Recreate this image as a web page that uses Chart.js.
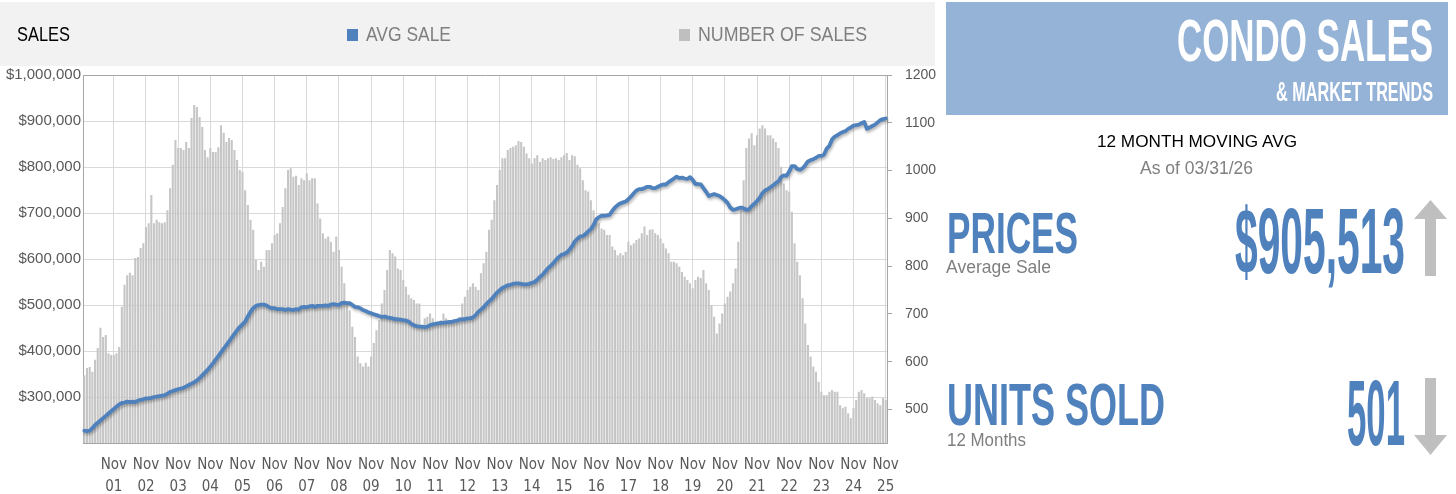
<!DOCTYPE html>
<html><head><meta charset="utf-8">
<script src="https://cdn.jsdelivr.net/npm/chart.js@4.4.1/dist/chart.umd.min.js"></script>
<style>
html,body{margin:0;padding:0;background:#fff;width:1456px;height:494px;overflow:hidden;position:relative;font-family:'Liberation Sans',Arial,sans-serif;}
.abs{position:absolute;white-space:nowrap;line-height:1;transform-origin:0 0;}
#band{position:absolute;left:0;top:2px;width:935px;height:64px;background:#f2f2f2;}
#chartWrap{position:absolute;left:0;top:66px;width:940px;height:428px;}
#titleBox{position:absolute;left:946px;top:2px;width:502px;height:113px;background:#95b3d7;}
.sw{position:absolute;width:11px;height:12px;top:29px;}
</style></head>
<body>
<div id="band"></div>
<div class="sw" style="left:347px;background:#4f81bd"></div>
<div class="sw" style="left:679px;background:#bfbfbf"></div>
<div id="chartWrap"><canvas id="c" width="940" height="428"></canvas></div>
<div id="titleBox"></div>
<svg style="position:absolute;left:0;top:0" width="1456" height="494">
  <polygon points="1414,219 1430.5,200 1447,219 1436,219 1436,276 1425,276 1425,219" fill="#bfbfbf"/>
  <polygon points="1425,378 1436,378 1436,435 1447,435 1430.5,455 1414,435 1425,435" fill="#bfbfbf"/>
</svg>
<script>
// ---------- DATA ----------
const monthNames = ["Jan","Feb","Mar","Apr","May","Jun","Jul","Aug","Sep","Oct","Nov","Dec"];
const startYear = 2000, startMonthIndex = 11, monthCount = 300; // Dec 2000 .. Nov 2025
const categories = [];
for (let i = 0; i < monthCount; i++) {
  const m = (startMonthIndex + i) % 12, y = startYear + Math.floor((startMonthIndex + i) / 12);
  categories.push(monthNames[m] + " " + String(y % 100).padStart(2, "0"));
}
const tickLabels = ["Nov 01","Nov 02","Nov 03","Nov 04","Nov 05","Nov 06","Nov 07","Nov 08","Nov 09","Nov 10","Nov 11","Nov 12","Nov 13","Nov 14","Nov 15","Nov 16","Nov 17","Nov 18","Nov 19","Nov 20","Nov 21","Nov 22","Nov 23","Nov 24","Nov 25"];
const rightTicks = [500,600,700,800,900,1000,1100,1200];

// 12-month moving average sale price ($), one value per month
const avgSale = [
 227000,226000,227000,232000,239000,244000,249000,254000,259000,264000,269000,274000,
 279000,284000,287000,288000,290000,289000,290000,289000,292000,294000,295000,297000,
 297000,298000,300000,301000,302000,303000,304000,307000,311000,313000,315000,317000,
 318000,320000,323000,326000,329000,332000,336000,341000,347000,353000,359000,366000,
 373000,381000,389000,397000,405000,413000,421000,429000,437000,445000,452000,458000,
 464000,475000,485000,493000,498000,500000,501000,501000,499000,495000,493000,493000,
 491000,491000,491000,489000,491000,490000,489000,491000,490000,495000,496000,495000,
 497000,498000,496000,498000,498000,498000,499000,498000,501000,502000,501000,500000,
 504000,505000,504000,504000,500000,496000,495000,493000,489000,487000,484000,482000,
 480000,478000,476000,474000,475000,473000,472000,471000,469000,469000,468000,467000,
 466000,464000,459000,456000,454000,453000,453000,452000,453000,456000,458000,459000,
 460000,461000,461000,462000,463000,463000,465000,466000,468000,469000,469000,471000,
 471000,473000,478000,485000,490000,495000,502000,508000,513000,520000,527000,532000,
 537000,540000,543000,544000,546000,547000,547000,546000,545000,545000,546000,548000,
 550000,555000,561000,566000,573000,580000,585000,591000,598000,604000,609000,611000,
 614000,620000,628000,638000,644000,649000,650000,654000,660000,665000,674000,686000,
 691000,694000,694000,695000,696000,705000,712000,717000,721000,723000,725000,730000,
 736000,743000,749000,752000,752000,754000,757000,757000,754000,754000,757000,760000,
 762000,762000,767000,771000,775000,779000,776000,777000,775000,774000,778000,772000,
 763000,763000,762000,754000,746000,737000,739000,741000,739000,737000,733000,728000,
 722000,712000,707000,708000,710000,712000,710000,707000,708000,715000,720000,726000,
 733000,743000,749000,752000,756000,760000,765000,769000,778000,782000,781000,790000,
 802000,802000,796000,794000,797000,804000,812000,815000,817000,820000,824000,824000,
 827000,840000,846000,860000,866000,869000,873000,876000,878000,883000,886000,890000,
 891000,892000,895000,898000,883000,886000,889000,892000,897000,902000,904000,905513
];

// 12-month number of sales, one value per month
const numSales = [
 572,587,589,579,604,629,671,652,656,618,614,614,
 618,631,715,761,781,786,781,817,819,838,848,882,
 890,949,890,897,892,890,892,917,963,1012,1064,1047,
 1047,1043,1060,1047,1110,1137,1133,1112,1091,1043,1028,1047,
 1039,1039,1049,1095,1079,1060,1068,1064,1043,1022,1001,997,
 959,928,897,876,813,792,809,799,834,834,848,865,
 869,890,924,963,1001,1005,987,989,970,984,980,994,
 980,984,984,931,900,869,858,862,851,830,862,834,
 799,764,722,708,673,652,611,597,590,598,590,611,
 639,666,687,722,750,792,834,827,820,795,792,771,
 757,740,733,729,722,722,673,691,694,701,691,680,
 684,687,701,691,687,680,687,687,694,722,736,750,
 757,764,757,750,785,806,830,876,897,938,970,1001,
 1026,1026,1043,1047,1050,1053,1062,1060,1050,1036,1026,1015,
 1026,1032,1018,1026,1022,1026,1028,1024,1026,1022,1028,1032,
 1037,1022,1032,1030,1012,1005,980,959,956,938,917,903,
 890,879,876,865,865,841,834,823,827,823,830,851,
 844,848,855,858,869,883,865,876,877,869,865,858,
 848,837,827,809,809,806,799,788,778,771,764,754,
 771,778,775,792,764,750,719,694,659,680,701,722,
 736,747,764,795,851,917,980,1047,1067,1078,1053,1074,
 1088,1095,1088,1074,1074,1067,1060,1047,1008,973,959,956,
 914,848,809,781,733,680,635,611,590,579,558,537,
 530,530,537,541,537,537,509,503,506,492,482,503,
 520,537,541,534,524,524,527,520,513,509,524,520
];

// ---------- TEXT PLACEMENT ----------
function place(text, o) {
  const el = document.createElement('div');
  el.className = 'abs';
  el.textContent = text;
  const fs = o.capH / 0.716;
  el.style.fontSize = fs + 'px';
  el.style.fontWeight = o.bold ? 'bold' : 'normal';
  el.style.color = o.color;
  el.style.fontFamily = o.family || "'Liberation Sans', Arial, sans-serif";
  document.body.appendChild(el);
  const w = el.getBoundingClientRect().width;
  const sx = o.width ? o.width / w : 1;
  el.style.left = o.x + 'px';
  el.style.top = (o.capTop - 0.1305 * fs) + 'px';
  el.style.transform = 'scaleX(' + sx + ')';
  return el;
}
place("SALES", {x:17, capTop:28, capH:14, width:53, color:'#000'});
place("AVG SALE", {x:366, capTop:28, capH:14, width:85, color:'#7f7f7f'});
place("NUMBER OF SALES", {x:698, capTop:28, capH:14, width:169, color:'#7f7f7f'});
place("CONDO SALES", {x:1177, capTop:20, capH:42, width:256, bold:true, color:'#ffffff'});
place("& MARKET TRENDS", {x:1276, capTop:82, capH:20, width:157, bold:true, color:'#ffffff'});
place("12 MONTH MOVING AVG", {x:1097, capTop:135, capH:11.7, width:200, color:'#000'});
place("As of 03/31/26", {x:1140, capTop:162, capH:12.5, width:113, color:'#808080'});
place("PRICES", {x:947, capTop:213, capH:41.5, width:131, bold:true, color:'#4f81bd'});
place("Average Sale", {x:946, capTop:261, capH:12.5, width:105, color:'#7f7f7f'});
place("$905,513", {x:1235, capTop:208, capH:66, width:170, bold:true, color:'#4f81bd'});
place("UNITS SOLD", {x:947, capTop:384, capH:42, width:218, bold:true, color:'#4f81bd'});
place("12 Months", {x:947, capTop:433, capH:13, width:79, color:'#7f7f7f'});
place("501", {x:1347, capTop:380, capH:66, width:58, bold:true, color:'#4f81bd'});

// ---------- CHART ----------
Chart.defaults.font.family = "'Liberation Sans', Arial, sans-serif";
const shadowPlugin = {
  id: 'lineShadow',
  beforeDatasetDraw(chart, args) {
    if (args.index === 0) {
      const c = chart.ctx; c.save();
      c.shadowColor = 'rgba(0,0,0,0.3)'; c.shadowBlur = 3; c.shadowOffsetX = 1; c.shadowOffsetY = 2;
    }
  },
  afterDatasetDraw(chart, args) { if (args.index === 0) chart.ctx.restore(); }
};
function fixVPad(a, w) { a.width = w; a.paddingTop = 9; a.paddingBottom = 0; }

new Chart(document.getElementById('c'), {
  type: 'bar',
  data: {
    labels: categories,
    datasets: [
      {type:'line', label:'AVG SALE', data:avgSale, yAxisID:'y', borderColor:'#4f81bd', borderWidth:3.8,
       pointRadius:0, tension:0, order:0, borderJoinStyle:'round', borderCapStyle:'round'},
      {type:'bar', label:'NUMBER OF SALES', data:numSales, yAxisID:'y1', backgroundColor:'#c6c6c6',
       barPercentage:0.78, categoryPercentage:1, order:1}
    ]
  },
  options: {
    responsive:false, animation:false,
    layout:{padding:{top:9, left:0, right:0, bottom:0}},
    plugins:{legend:{display:false}, tooltip:{enabled:false}},
    scales:{
      x:{
        offset:true,
        grid:{offset:false, color:'#d9d9d9', drawTicks:false},
        border:{color:'#a6a6a6'},
        ticks:{autoSkip:false, maxRotation:0, minRotation:0, padding:11, color:'#595959',
          font:{family:"'Liberation Sans Narrow','Arial Narrow','DejaVu Sans Condensed',sans-serif", size:15, lineHeight:1.45},
          callback(v){ return this.getLabelForValue(v).split(' '); }},
        afterBuildTicks(a){ a.ticks = a.ticks.filter(t => tickLabels.includes(categories[t.value])); },
        afterFit(a){ a.height = 51; }
      },
      y:{
        position:'left', min:200000, max:1000000,
        ticks:{stepSize:100000, padding:2, color:'#595959', font:{size:15},
          callback: v => v === 200000 ? '' : '$' + v.toLocaleString('en-US')},
        grid:{color: c => (c.tick && c.tick.value === 1000000) ? '#a6a6a6' : '#d9d9d9', drawTicks:false},
        border:{color:'#a6a6a6'},
        afterFit(a){ fixVPad(a, 83); }
      },
      y1:{
        position:'right', min:430, max:1200,
        afterBuildTicks(a){ a.ticks = rightTicks.map(v => ({value:v})); },
        ticks:{padding:13, color:'#595959', font:{size:14}, callback: v => String(v)},
        grid:{drawOnChartArea:false, drawTicks:true, tickLength:5, color:'#a6a6a6'},
        border:{color:'#a6a6a6'},
        afterFit(a){ fixVPad(a, 53); }
      }
    }
  },
  plugins:[shadowPlugin]
});
</script>
</body></html>
